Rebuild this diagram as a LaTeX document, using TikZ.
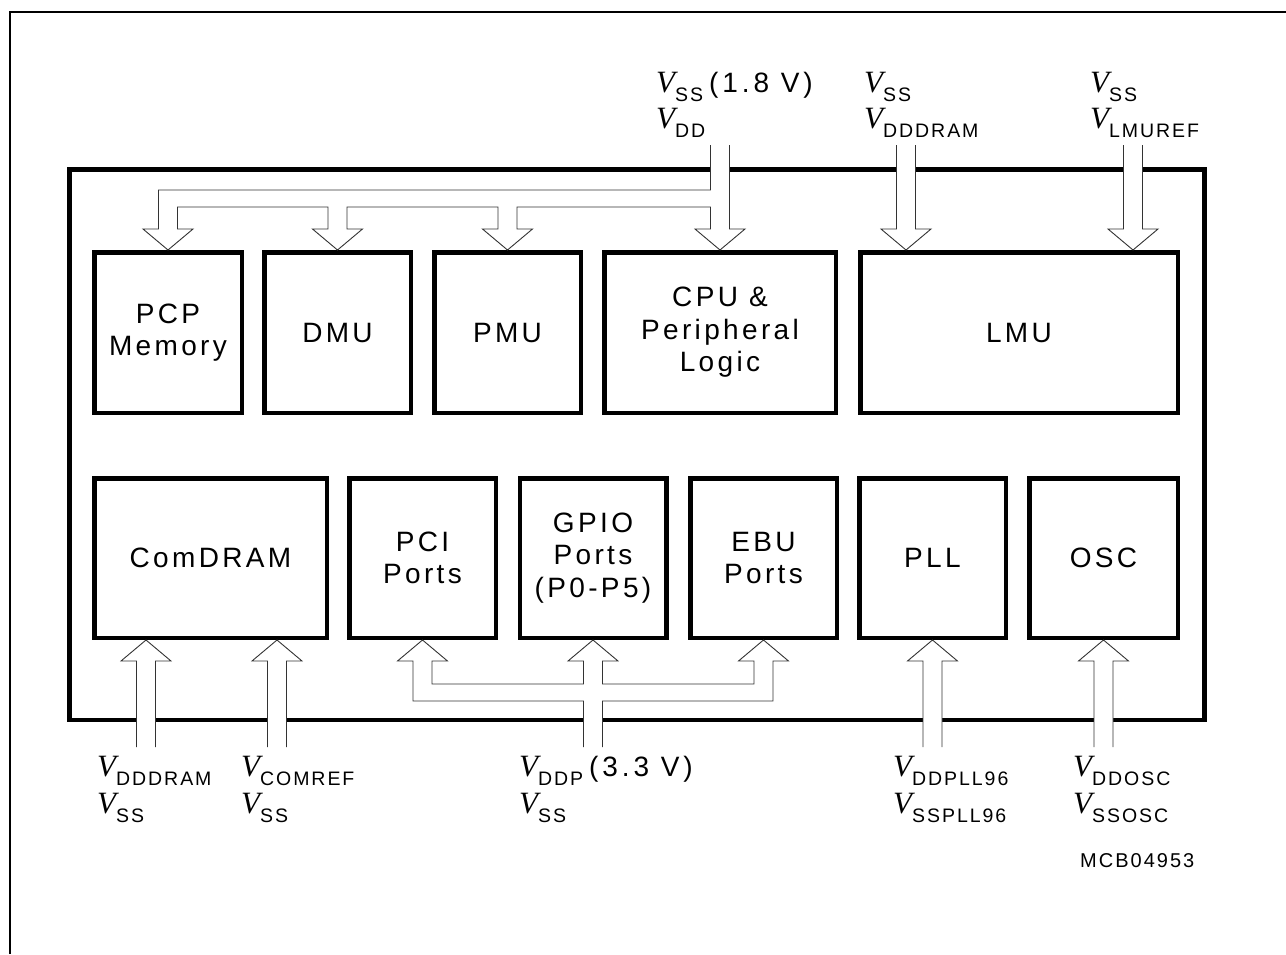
\documentclass[tikz,border=0pt]{standalone}
\usepackage{fontspec}
\setmainfont{Liberation Sans}[LetterSpace=12]
\newfontfamily\widefont{Liberation Sans}[LetterSpace=14]
\newfontfamily\subfont{Liberation Sans}[LetterSpace=10]
\newfontfamily\vfont{Liberation Serif}
\usetikzlibrary{calc}
\newcommand\VS[1]{{\vfont\itshape\fontsize{31}{31}\selectfont V}\raisebox{-9pt}{\subfont\fontsize{19.5}{20}\selectfont #1}}
\tikzset{
  blk/.style={draw, line width=4.5pt, inner sep=0pt, align=center, minimum height=160.5pt,
    font=\fontsize{28}{32.5}\selectfont},
  chipframe/.style={draw, line width=4.5pt, inner sep=0pt, minimum width=1135pt, minimum height=550.5pt},
  bus/.style={draw=black!80, line width=0.9pt, fill=white, line join=miter},
  hd/.style={insert path={-- ++(-15.5,0) -- ++(25,21) -- ++(25,-21) -- ++(-15.5,0)}},
  hu/.style={insert path={-- ++(-15.5,0) -- ++(25,-21) -- ++(25,21) -- ++(-15.5,0)}},
  lbl/.style={inner sep=0pt, anchor=base west},
}
\begin{document}
\begin{tikzpicture}[x=1pt,y=-1pt]
\useasboundingbox (0,0) rectangle (1286,954);
% page frame
\draw[line width=2pt] (10,954) -- (10,12) -- (1286,12);
% chip
\node[chipframe] (chip) at (637,444.75) {};
% top row
\node[blk, minimum width=147.5pt] (pcp) at (168,332.5) {PCP\\Memory};
\node[blk, minimum width=146.5pt] (dmu) at (337.5,332.5) {DMU};
\node[blk, minimum width=146.5pt] (pmu) at (507.5,332.5) {PMU};
\node[blk, minimum width=231.5pt] (cpu) at (720,332.5) {CPU \&\\Peripheral\\Logic};
\node[blk, minimum width=317.5pt] (lmu) at (1019,332.5) {LMU};
% bottom row
\node[blk, minimum height=159.5pt, minimum width=232.5pt] (comdram) at (210.5,558) {ComDRAM};
\node[blk, minimum height=159.5pt, minimum width=146.5pt] (pci) at (422.5,558) {PCI\\Ports};
\node[blk, minimum height=159.5pt, minimum width=146.5pt] (gpio) at (593,558) {GPIO\\Ports\\(P0-P5)};
\node[blk, minimum height=159.5pt, minimum width=146.5pt] (ebu) at (763.5,558) {EBU\\Ports};
\node[blk, minimum height=159.5pt, minimum width=146.5pt] (pll) at (932.5,558) {PLL};
\node[blk, minimum height=159.5pt, minimum width=148.5pt] (osc) at (1103.5,558) {OSC};
% top bus (1.8 V)
\draw[bus] ($(cpu.north)+(-9.5,-105)$) |- ($(pcp.north)+(-9.5,-60)$) -- ($(pcp.north)+(-9.5,-21)$) [hd]
  |- ($(dmu.north)+(-9.5,-43)$) -- ($(dmu.north)+(-9.5,-21)$) [hd]
  |- ($(pmu.north)+(-9.5,-43)$) -- ($(pmu.north)+(-9.5,-21)$) [hd]
  |- ($(cpu.north)+(-9.5,-43)$) -- ($(cpu.north)+(-9.5,-21)$) [hd]
  -- ($(cpu.north)+(9.5,-105)$);
% LMU arrows
\coordinate (l1) at ($(lmu.north west)+(48,0)$);
\coordinate (l2) at ($(lmu.north east)+(-47,0)$);
\draw[bus] ($(l1)+(-9.5,-105)$) -- ($(l1)+(-9.5,-21)$) [hd] -- ($(l1)+(9.5,-105)$);
\draw[bus] ($(l2)+(-9.5,-105)$) -- ($(l2)+(-9.5,-21)$) [hd] -- ($(l2)+(9.5,-105)$);
% bottom bus (3.3 V)
\draw[bus] ($(gpio.south)+(-9.5,107)$) |- ($(pci.south)+(-9.5,61)$) -- ($(pci.south)+(-9.5,21)$) [hu]
  |- ($(gpio.south)+(-9.5,44)$) -- ($(gpio.south)+(-9.5,21)$) [hu]
  |- ($(ebu.south)+(-9.5,44)$) -- ($(ebu.south)+(-9.5,21)$) [hu]
  |- ($(gpio.south)+(9.5,61)$) -- ($(gpio.south)+(9.5,107)$);
% single bottom arrows
\coordinate (b1) at ($(comdram.south west)+(54,0)$);
\coordinate (b2) at ($(comdram.south east)+(-52,0)$);
\coordinate (b3) at (pll.south);
\coordinate (b4) at (osc.south);
\foreach \t in {b1,b2,b3,b4}{
  \draw[bus] ($(\t)+(-9.5,107)$) -- ($(\t)+(-9.5,21)$) [hu] -- ($(\t)+(9.5,107)$);
}
% labels top
\node[lbl] (ta1) at (656,92) {\VS{SS}\hspace{6pt}{\widefont\fontsize{28}{28}\selectfont(1.8 V)}};
\node[lbl] (ta2) at (656,128) {\VS{DD}};
\node[lbl] (tb1) at (864,92) {\VS{SS}};
\node[lbl] (tb2) at (864,128) {\VS{DDDRAM}};
\node[lbl] (tc1) at (1090,92) {\VS{SS}};
\node[lbl] (tc2) at (1090,128) {\VS{LMUREF}};
% labels bottom
\node[lbl] (ba1) at (97,776) {\VS{DDDRAM}};
\node[lbl] (ba2) at (97,813) {\VS{SS}};
\node[lbl] (bb1) at (241,776) {\VS{COMREF}};
\node[lbl] (bb2) at (241,813) {\VS{SS}};
\node[lbl] (bc1) at (519,776) {\VS{DDP}\hspace{6pt}{\widefont\fontsize{28}{28}\selectfont(3.3 V)}};
\node[lbl] (bc2) at (519,813) {\VS{SS}};
\node[lbl] (bd1) at (893,776) {\VS{DDPLL96}};
\node[lbl] (bd2) at (893,813) {\VS{SSPLL96}};
\node[lbl] (be1) at (1073,776) {\VS{DDOSC}};
\node[lbl] (be2) at (1073,813) {\VS{SSOSC}};
\node[lbl, font=\subfont\fontsize{20}{20}\selectfont] (ref) at (1080,867) {MCB04953};
\end{tikzpicture}
\end{document}
